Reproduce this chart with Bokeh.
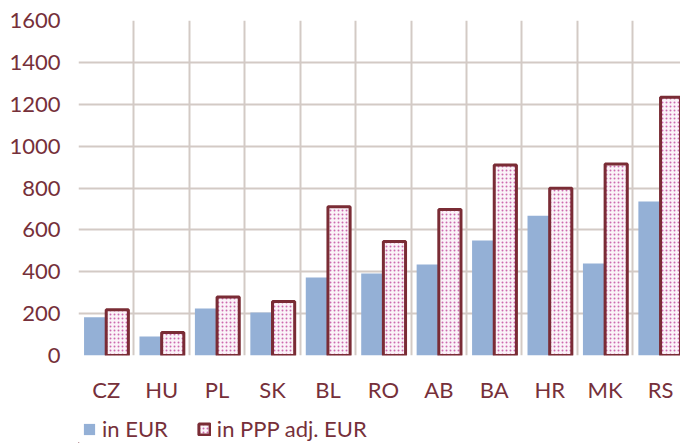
from bokeh.plotting import figure
from bokeh.models import ColumnDataSource, FixedTicker, Legend, LegendItem
from bokeh.layouts import column
from bokeh.embed import file_html
from bokeh.resources import INLINE

categories = ["CZ", "HU", "PL", "SK", "BL", "RO", "AB", "BA", "HR", "MK", "RS"]
in_eur = [183, 91, 224, 205, 372, 392, 435, 549, 668, 439, 735]
in_ppp = [218, 110, 279, 258, 711, 544, 697, 910, 799, 915, 1233]
y_ticks = [0, 200, 400, 600, 800, 1000, 1200, 1400, 1600]
series_names = ["in EUR", "in PPP adj. EUR"]

TEXT = "#76303A"
GRID = "#D3CAC5"
FONT = "Lato"
FS = "22px"

EUR_STYLE = dict(fill_color="#94B0D6", line_color=None)
PPP_STYLE = dict(fill_color="#FBF3F8", line_color="#7A2C35", line_width=3,
                 hatch_pattern="dot", hatch_scale=4, hatch_weight=1.6, hatch_color="#CC6AAE")

idx = list(range(len(categories)))
src = ColumnDataSource(dict(
    x_eur=[i + 0.3 for i in idx],
    x_ppp=[i + 0.7 for i in idx],
    eur=in_eur,
    ppp=in_ppp,
))

p = figure(width=680, height=407, output_backend="svg", toolbar_location=None,
           x_range=(0, 10.86), y_range=(0, 1600),
           min_border_left=78, min_border_right=0, min_border_top=20, min_border_bottom=52)
p.outline_line_color = None
p.background_fill_color = "white"

p.vbar(x="x_eur", top="eur", width=0.4, source=src, **EUR_STYLE)
p.vbar(x="x_ppp", top="ppp", width=0.4, source=src, **PPP_STYLE)

# axes
p.yaxis.ticker = FixedTicker(ticks=y_ticks)
p.xaxis.ticker = FixedTicker(ticks=[i + 0.5 for i in idx])
p.xaxis.major_label_overrides = {i + 0.5: c for i, c in enumerate(categories)}
for ax in (p.xaxis[0], p.yaxis[0]):
    ax.axis_line_color = None
    ax.major_tick_line_color = None
    ax.minor_tick_line_color = None
    ax.major_label_text_color = TEXT
    ax.major_label_text_font = FONT
    ax.major_label_text_font_size = FS
p.yaxis.major_label_standoff = 12
p.xaxis.major_label_standoff = 14

# grids
p.ygrid.ticker = FixedTicker(ticks=y_ticks)
p.ygrid.grid_line_color = GRID
p.ygrid.grid_line_width = 2
p.xgrid.ticker = FixedTicker(ticks=list(range(1, 12)))
p.xgrid.grid_line_color = GRID
p.xgrid.grid_line_width = 2

# legend strip below the chart (proxy glyphs lie outside its visible range)
lf = figure(width=680, height=36, output_backend="svg", toolbar_location=None,
            x_range=(0, 1), y_range=(0, 1),
            min_border_left=0, min_border_right=0, min_border_top=0, min_border_bottom=0)
lf.axis.visible = False
lf.grid.visible = False
lf.outline_line_color = None
proxy = ColumnDataSource(dict(x=[-5.0], top=[-5.0]))
l1 = lf.vbar(x="x", top="top", width=0.1, source=proxy, **EUR_STYLE)
l2 = lf.vbar(x="x", top="top", width=0.1, source=proxy, **PPP_STYLE)

legend = Legend(items=[LegendItem(label=series_names[0], renderers=[l1]),
                       LegendItem(label=series_names[1], renderers=[l2])],
                orientation="horizontal", location=(4, 1))
legend.label_text_color = TEXT
legend.label_text_font = FONT
legend.label_text_font_size = FS
legend.glyph_width = 14
legend.glyph_height = 14
legend.label_standoff = 6
legend.spacing = 29
legend.padding = 0
legend.margin = 0
legend.border_line_color = None
legend.background_fill_alpha = 0
lf.add_layout(legend, "center")

layout = column(p, lf, spacing=0)
open("out.html", "w").write(file_html(layout, INLINE))
